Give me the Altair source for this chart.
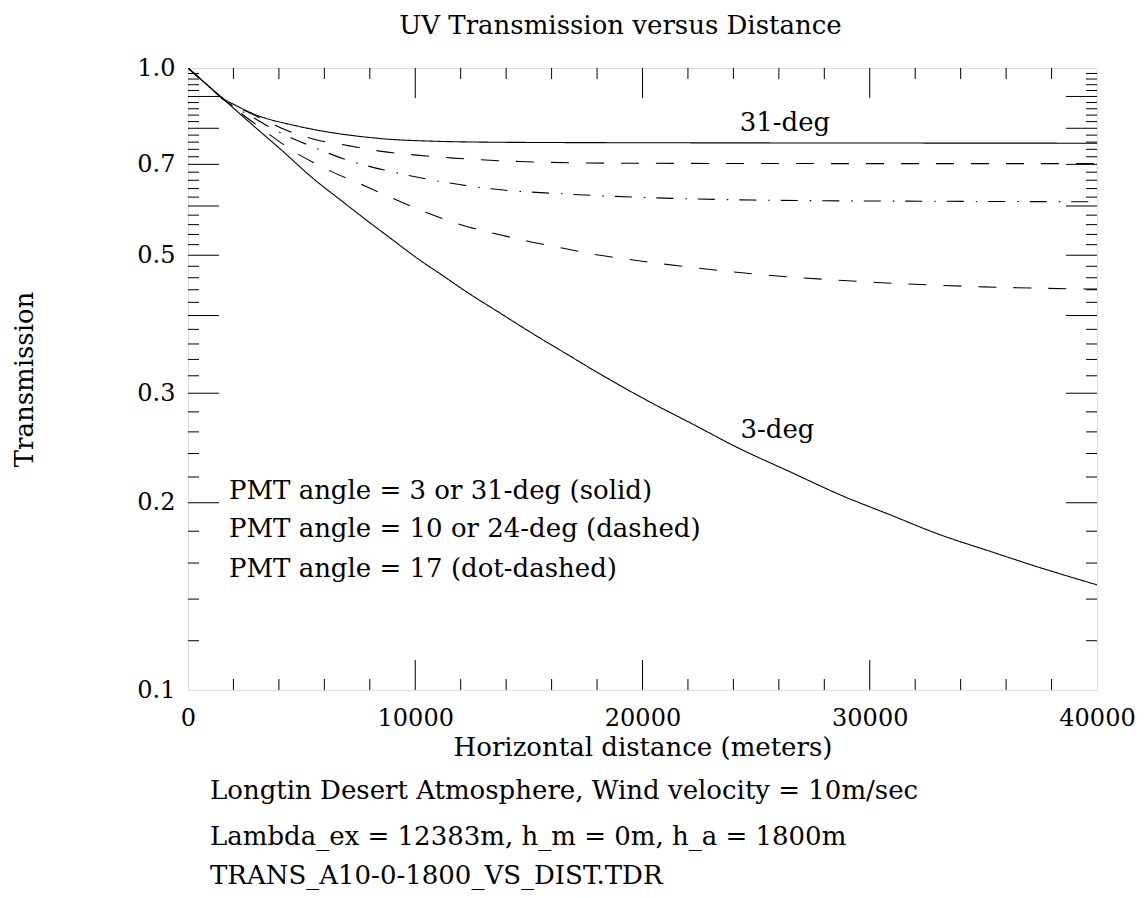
import altair as alt
import pandas as pd

# ---------------- data ----------------
series_names = ["31-deg", "24-deg", "17-deg", "10-deg", "3-deg"]

dist_31 = [0, 800, 1600, 2000, 2500, 2950, 3600, 4270, 5300, 6470, 7500, 8670,
           10870, 13000, 16000, 20000, 30000, 40000]
trans_31 = [1.000, 0.9425, 0.8900, 0.8745, 0.8561, 0.8418, 0.8264, 0.8149, 0.7995,
            0.7857, 0.7767, 0.7690, 0.7625, 0.7600, 0.7589, 0.7583, 0.7575, 0.7570]

dist_24 = [0, 800, 1600, 2290, 3000, 4120, 5510, 7050, 8520, 10060, 11670, 14610,
           19010, 25000, 32000, 40000]
trans_24 = [1.000, 0.9425, 0.8882, 0.8613, 0.8372, 0.8001, 0.7690, 0.7503, 0.7344,
            0.7244, 0.7164, 0.7074, 0.7030, 0.7022, 0.7019, 0.7019]

dist_17 = [0, 800, 1600, 2948, 3828, 5439, 7050, 8814, 10574, 13144, 16664, 20476,
           24876, 32783, 40000]
trans_17 = [1.000, 0.9425, 0.8882, 0.8294, 0.7951, 0.7481, 0.7103, 0.6832, 0.6622,
            0.6405, 0.6271, 0.6186, 0.6133, 0.6106, 0.6095]

dist_10 = [0, 800, 1600, 3200, 4783, 6323, 7864, 9184, 10574, 12044, 13584, 15050,
           16515, 18055, 19595, 24598, 30319, 34997, 40000]
trans_10 = [1.000, 0.9425, 0.8882, 0.8008, 0.7295, 0.6814, 0.6443, 0.6133, 0.5840,
            0.5592, 0.5409, 0.5257, 0.5130, 0.5004, 0.4912, 0.4677, 0.4521, 0.4448, 0.4410]

dist_3 = [0, 800, 1600, 2816, 4004, 5589, 6733, 7877, 8977, 10077, 11177, 12277,
          13729, 15182, 16678, 18130, 20330, 22090, 24290, 26491, 28691, 30891,
          33091, 35292, 37492, 40000]
trans_3 = [1.000, 0.9425, 0.8882, 0.8113, 0.7440, 0.6605, 0.6126, 0.5684, 0.5302,
           0.4947, 0.4646, 0.4361, 0.4037, 0.3738, 0.3466, 0.3221, 0.2904, 0.2690,
           0.2442, 0.2243, 0.2060, 0.1913, 0.1777, 0.1671, 0.1573, 0.1476]

x_labels = [0, 10000, 20000, 30000, 40000]
y_labels = [0.1, 0.2, 0.3, 0.5, 0.7, 1.0]

x_major_ticks = [10000, 20000, 30000]
x_minor_ticks = [2000, 4000, 6000, 8000, 12000, 14000, 16000, 18000,
                 22000, 24000, 26000, 28000, 32000, 34000, 36000, 38000]
y_major_ticks = [0.2, 0.3, 0.4, 0.5, 0.6, 0.7, 0.8, 0.9]
y_minor_ticks = [0.12, 0.14, 0.16, 0.18, 0.22, 0.24, 0.26, 0.28,
                 0.32, 0.34, 0.36, 0.38, 0.42, 0.44, 0.46, 0.48,
                 0.52, 0.54, 0.56, 0.58, 0.62, 0.64, 0.66, 0.68,
                 0.72, 0.74, 0.76, 0.78, 0.82, 0.84, 0.86, 0.88,
                 0.92, 0.94, 0.96, 0.98]

curve_labels = ["31-deg", "3-deg"]
curve_label_x = [26270, 25940]
curve_label_y = [0.792, 0.2545]

legend_lines = ["PMT angle = 3 or 31-deg (solid)",
                "PMT angle = 10 or 24-deg (dashed)",
                "PMT angle = 17 (dot-dashed)"]
legend_x = [1800, 1800, 1800]
legend_y = [0.2029, 0.1763, 0.1520]

notes = ["Longtin Desert Atmosphere, Wind velocity = 10m/sec",
         "Lambda_ex = 12383m, h_m = 0m, h_a = 1800m",
         "TRANS_A10-0-1800_VS_DIST.TDR"]

title_text = "UV Transmission versus Distance"
x_title = "Horizontal distance (meters)"
y_title = "Transmission"

# ---------------- build tables ----------------
rows = []
for name, ds, ts in zip(series_names,
                        [dist_31, dist_24, dist_17, dist_10, dist_3],
                        [trans_31, trans_24, trans_17, trans_10, trans_3]):
    for d, t in zip(ds, ts):
        rows.append({"series": name, "distance": d, "transmission": t})
df = pd.DataFrame(rows)

W, H = 909, 622
FONT = "DejaVu Serif"
TXT = 26
INK = "black"

xscale = alt.Scale(domain=[0, 40000], nice=False, zero=False)
yscale = alt.Scale(type="log", domain=[0.1, 1.0], nice=False)

dashes = [[1, 0], [18, 17], [17, 12, 1.5, 11], [18, 17], [1, 0]]

x_axis = alt.Axis(values=x_labels, format="d", labelPadding=16, labelFlush=False,
                  labelOverlap=False, title=x_title,
                  titleX=W / 2, titleY=65, titleBaseline="alphabetic",
                  titleAlign="center")
y_axis = alt.Axis(values=y_labels, format=".1f", labelPadding=13,
                  labelOverlap=False, labelFlush=False, title=y_title,
                  titleAngle=270, titleX=-164, titleY=H / 2,
                  titleBaseline="middle", titleAlign="center")

lines = alt.Chart(df).mark_line(color=INK, strokeWidth=1.1, clip=True,
                                interpolate="monotone").encode(
    x=alt.X("distance:Q", scale=xscale, axis=x_axis),
    y=alt.Y("transmission:Q", scale=yscale, axis=y_axis),
    strokeDash=alt.StrokeDash("series:N",
                              scale=alt.Scale(domain=series_names, range=dashes),
                              legend=None),
    detail="series:N",
)


def xticks(vals, length):
    base = alt.Chart(pd.DataFrame({"distance": vals})).mark_rule(color=INK, strokeWidth=1)
    xenc = alt.X("distance:Q", scale=xscale, title=x_title)
    return [base.encode(x=xenc, y=alt.value(H), y2=alt.value(H - length)),
            base.encode(x=xenc, y=alt.value(0), y2=alt.value(length))]


def yticks(vals, length):
    base = alt.Chart(pd.DataFrame({"transmission": vals})).mark_rule(color=INK, strokeWidth=1)
    yenc = alt.Y("transmission:Q", scale=yscale, title=y_title)
    return [base.encode(y=yenc, x=alt.value(0), x2=alt.value(length)),
            base.encode(y=yenc, x=alt.value(W), x2=alt.value(W - length))]


tick_layers = (xticks(x_major_ticks, 30) + xticks(x_minor_ticks, 11)
               + yticks(y_major_ticks, 31) + yticks(y_minor_ticks, 11))

curve_text = alt.Chart(pd.DataFrame({"label": curve_labels, "distance": curve_label_x,
                                     "transmission": curve_label_y})).mark_text(
    font=FONT, fontSize=TXT, color=INK, align="center", baseline="alphabetic"
).encode(x=alt.X("distance:Q", scale=xscale, title=x_title),
         y=alt.Y("transmission:Q", scale=yscale, title=y_title), text="label:N")

legend_text = alt.Chart(pd.DataFrame({"label": legend_lines, "distance": legend_x,
                                      "transmission": legend_y})).mark_text(
    font=FONT, fontSize=TXT, color=INK, align="left", baseline="alphabetic"
).encode(x=alt.X("distance:Q", scale=xscale, title=x_title),
         y=alt.Y("transmission:Q", scale=yscale, title=y_title), text="label:N")

note_y = [731, 777, 816]
note_layers = []
for note, ny in zip(notes, note_y):
    note_layers.append(
        alt.Chart(pd.DataFrame({"note": [note]})).mark_text(
            font=FONT, fontSize=TXT, color=INK, align="left", baseline="alphabetic"
        ).encode(text="note:N", x=alt.value(22), y=alt.value(ny))
    )

chart = alt.layer(lines, *tick_layers, curve_text, legend_text, *note_layers).properties(
    width=W, height=H,
    autosize=alt.AutoSizeParams(type="none"),
    padding={"left": 180, "top": 60, "right": 38, "bottom": 200},
    title=alt.TitleParams(title_text, font=FONT, fontSize=TXT, fontWeight="normal",
                          color=INK, anchor="middle", frame="group", dx=-22,
                          offset=17),
).configure_view(stroke=INK, strokeWidth=1.3).configure(
    background="white"
).configure_axis(
    grid=False, ticks=False, domain=False,
    labelFont=FONT, labelFontSize=24, labelColor=INK,
    titleFont=FONT, titleFontSize=TXT, titleFontWeight="normal", titleColor=INK,
)

chart.save("out.html", embed_options={"renderer": "svg", "actions": False})
